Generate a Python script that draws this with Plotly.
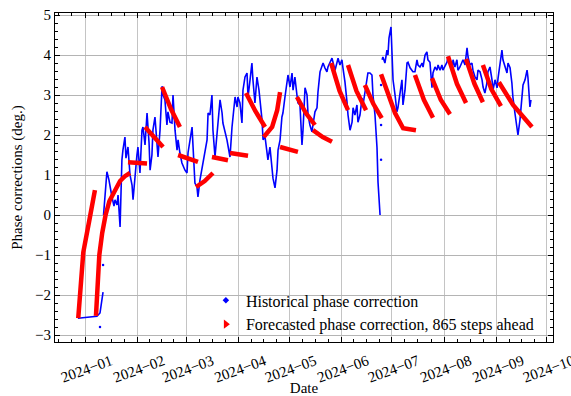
import pandas as pd
import plotly.graph_objects as go

BASE = pd.Timestamp("2024-01-01")

# ---- historical phase correction (days since 2024-01-01, degrees) ----
hist_a_day = [-4.2, 7.1, 8.9, 10.1, 10.7]
hist_a_val = [-2.58, -2.53, -2.45, -2.13, -1.93]

hist_b_day = [11.0, 11.9, 13.0, 14.2, 14.8, 16.0, 17.2, 17.8, 19.0, 19.6, 20.8, 21.4, 21.9, 22.5,
              23.7, 24.3, 25.5, 26.7, 27.9, 28.5, 29.7, 30.8, 31.4, 32.6, 33.8, 34.4, 35.6, 36.8,
              38.0, 38.6, 39.7, 40.3, 41.5, 42.7, 43.3, 44.5, 45.7, 46.3, 47.4, 48.6, 49.2, 50.4,
              51.6, 52.2, 53.4, 54.6, 55.2, 56.3, 57.5, 59.3, 60.5, 61.1, 62.3, 63.5, 64.1, 65.2,
              66.4, 67.0, 68.2, 70.0, 72.4, 73.0, 74.1, 75.3, 75.9, 77.1, 78.3, 80.1, 81.3, 81.8,
              84.2, 86.0, 87.2, 89.0, 90.2, 90.7, 91.9, 93.1, 93.7, 94.9, 96.1, 96.7, 97.9, 99.0,
              99.6, 100.8, 102.0, 103.2, 105.0, 105.6, 106.8, 107.9, 108.5, 109.7, 110.9, 111.5,
              112.7, 113.9, 114.5, 115.7, 116.8, 117.4, 118.6, 119.8, 120.4, 121.6, 122.8, 123.4,
              124.5, 125.7, 126.3, 127.5, 128.7, 129.3, 130.5, 131.7, 132.3, 133.4, 134.6, 135.2,
              136.4, 137.6, 138.2, 139.4, 140.6, 141.2, 142.3, 143.5, 144.1, 145.3, 146.5, 147.1,
              148.3, 149.5, 150.1, 151.2, 152.4, 153.0, 154.2, 155.4, 156.0, 157.2, 158.4, 159.0,
              160.1, 161.3, 161.9, 163.1, 164.3, 164.9, 166.1, 167.3, 167.8, 169.0, 170.2, 170.8,
              172.0, 173.2, 173.8, 175.0]
hist_b_val = [0.0, 0.5, 1.08, 0.88, 0.7, 0.45, 0.22, 0.38, 0.25, 0.5, -0.3, 0.88, 1.38, 1.62,
              1.95, 1.42, 1.7, 1.0, 0.75, 0.38, 1.08, 1.5, 1.7, 1.05, 2.12, 2.2, 1.75, 2.55,
              1.8, 1.12, 1.5, 2.12, 2.45, 1.75, 1.45, 2.12, 3.22, 3.0, 2.88, 2.25, 2.58, 2.32,
              2.3, 3.0, 2.12, 1.62, 1.88, 1.55, 1.3, 1.12, 1.05, 1.55, 1.88, 2.2, 1.7, 0.8,
              0.7, 0.45, 0.88, 1.3, 1.88, 2.55, 2.5, 3.0, 2.12, 1.45, 1.95, 2.88, 2.55, 2.3,
              1.88, 1.45, 2.2, 2.95, 2.7, 2.95, 2.8, 2.3, 3.12, 3.45, 3.55, 2.95, 3.38, 3.8,
              3.38, 2.8, 3.45, 3.12, 2.38, 1.88, 1.95, 1.55, 1.38, 1.7, 1.12, 0.92,
              0.68, 1.12, 1.62, 1.88, 2.45, 2.55, 2.95, 3.38, 3.5, 3.2, 3.55, 3.12,
              3.45, 3.0, 2.8, 2.75, 1.75, 2.12, 3.18, 3.0, 2.5, 2.25, 2.08, 2.25,
              2.58, 2.68, 3.08, 3.58, 3.75, 3.8, 3.68, 3.58, 3.7, 3.82, 3.92, 3.82,
              3.62, 3.82, 3.92, 3.75, 3.88, 3.68, 3.32, 2.82, 2.5, 2.12, 2.32, 2.68,
              2.5, 2.75, 2.32, 2.5, 2.92, 2.75, 3.08, 3.45, 3.55, 3.55, 3.5, 3.0,
              2.5, 1.68, 0.82, 0.0]

hist_c_day = [176.2, 176.7, 177.9, 179.1, 179.7, 180.3, 181.5, 182.1, 182.7, 183.9, 185.0, 185.6,
              186.8, 188.0, 188.6, 189.8, 191.0, 191.6, 192.8, 193.9, 194.5, 195.7, 196.9, 197.5,
              198.7, 199.9, 200.5, 201.7, 202.8, 203.4, 204.6, 205.8, 206.4, 207.6, 208.8, 209.4,
              210.6, 211.7, 212.3, 214.7, 215.3, 216.5, 217.7, 218.3, 219.4, 220.6, 221.2, 222.4,
              223.6, 224.2, 225.4, 226.6, 227.2, 228.3, 229.5, 230.1, 231.3, 232.5, 233.1, 234.3,
              235.5, 236.1, 237.2, 238.4, 239.0, 240.2, 241.4, 242.0, 243.2, 244.4, 245.0, 246.1,
              247.3, 247.9, 249.1, 250.3, 250.9, 252.1, 253.2, 253.8, 255.0, 256.2, 256.8, 258.0,
              259.2, 259.8, 261.0, 262.2, 262.7, 263.9, 264.5]
hist_c_val = [3.88, 3.95, 3.8, 4.12, 4.0, 4.42, 4.7, 4.2, 3.38, 3.0, 2.58, 2.68,
              3.0, 3.38, 2.75, 3.12, 3.8, 3.82, 3.68, 3.62, 3.58, 3.58, 3.88, 3.75,
              3.7, 3.8, 3.7, 4.0, 4.08, 3.88, 3.82, 3.18, 3.55, 3.7, 3.62, 3.75,
              3.62, 3.75, 3.62, 3.82, 3.95, 3.75, 3.62, 3.88, 3.7, 3.88, 3.62, 3.7,
              3.8, 3.88, 3.75, 4.18, 3.95, 3.75, 3.8, 3.62, 3.45, 3.38, 3.62, 3.58,
              3.38, 3.2, 3.05, 3.3, 3.58, 3.7, 3.38, 3.12, 3.38, 3.18, 3.42, 3.8,
              4.12, 3.88, 3.7, 3.55, 3.8, 3.68, 3.3, 2.95, 2.55, 2.2, 2.0, 2.38,
              3.05, 3.25, 3.38, 3.62, 3.45, 2.7, 2.88]

hist_dot_day = [8.9, 10.7, 175.6, 175.6, 175.6]
hist_dot_val = [-2.8, -1.25, 1.38, 2.25, 3.25]

# ---- forecasted phase correction, 865 steps ahead (one list per forecast) ----
fc_days = [
    [-4.0, -1.0, 2.5, 5.9],
    [6.5, 7.5, 8.5, 10.2, 12.2, 14.5, 17.8, 20.8, 23.7, 26.7],
    [25.5, 31.0, 36.8],
    [35.6, 41.0, 46.3],
    [45.7, 51.0, 56.3],
    [55.2, 61.0, 67.0],
    [65.9, 71.0, 75.9],
    [75.3, 80.0, 84.8],
    [86.0, 91.0, 96.7],
    [95.5, 101.0, 106.8],
    [106.0, 111.0, 114.0, 115.7],
    [115.7, 121.0, 126.3],
    [125.7, 131.0, 136.4],
    [135.2, 141.0, 146.5],
    [146.0, 151.0, 156.0],
    [156.0, 161.0, 166.7],
    [166.0, 171.0, 176.0],
    [175.6, 183.9, 188.7, 196.3],
    [195.7, 201.0, 206.4],
    [205.8, 211.0, 216.5],
    [215.3, 220.6, 226.0],
    [226.0, 231.0, 236.0],
    [236.0, 241.0, 246.7],
    [245.5, 253.9, 265.1],
]
fc_vals = [
    [-2.58, -0.93, -0.15, 0.62],
    [-2.52, -1.8, -1.0, -0.45, 0.0, 0.35, 0.62, 0.85, 0.97, 1.05],
    [1.32, 1.31, 1.29],
    [2.2, 1.95, 1.7],
    [3.2, 2.65, 2.2],
    [1.5, 1.42, 1.33],
    [0.7, 0.85, 1.05],
    [1.45, 1.4, 1.37],
    [1.55, 1.51, 1.48],
    [3.05, 2.6, 2.2],
    [1.95, 2.2, 2.62, 3.07],
    [1.7, 1.63, 1.58],
    [2.95, 2.55, 2.25],
    [2.12, 1.95, 1.83],
    [3.8, 3.1, 2.62],
    [3.75, 3.1, 2.62],
    [3.25, 2.78, 2.42],
    [3.52, 2.55, 2.17, 2.12],
    [3.5, 2.88, 2.43],
    [3.42, 2.88, 2.52],
    [3.97, 3.28, 2.8],
    [3.9, 3.28, 2.82],
    [3.75, 3.15, 2.72],
    [3.32, 2.75, 2.2],
]

month_ticks = ["2024-01-01", "2024-02-01", "2024-03-01", "2024-04-01", "2024-05-01",
               "2024-06-01", "2024-07-01", "2024-08-01", "2024-09-01", "2024-10-01"]
month_labels = ["2024\u221201", "2024\u221202", "2024\u221203", "2024\u221204", "2024\u221205",
                "2024\u221206", "2024\u221207", "2024\u221208", "2024\u221209", "2024\u221210"]
y_ticks = [-3, -2, -1, 0, 1, 2, 3, 4, 5]
y_labels = ["\u22123", "\u22122", "\u22121", "0", "1", "2", "3", "4", "5"]


def to_dates(days):
    return [BASE + pd.Timedelta(days=d) for d in days]


BLUE = "#0000ff"
RED = "#ff0000"

fig = go.Figure()

# historical line pieces
hx, hy = [], []
for d, v in ((hist_a_day, hist_a_val), (hist_b_day, hist_b_val), (hist_c_day, hist_c_val)):
    hx += to_dates(d) + [None]
    hy += list(v) + [None]
fig.add_trace(go.Scatter(x=hx, y=hy, mode="lines", line=dict(color=BLUE, width=1.6),
                         showlegend=False, hoverinfo="skip"))
fig.add_trace(go.Scatter(x=to_dates(hist_dot_day), y=hist_dot_val, mode="markers",
                         marker=dict(color=BLUE, size=2.5), showlegend=False))

# forecasts
fx, fy = [], []
for d, v in zip(fc_days, fc_vals):
    fx += to_dates(d) + [None]
    fy += list(v) + [None]
fig.add_trace(go.Scatter(x=fx, y=fy, mode="lines", line=dict(color=RED, width=4.5),
                         showlegend=False))

# legend entries
fig.add_trace(go.Scatter(x=[None], y=[None], mode="markers", name="Historical phase correction",
                         marker=dict(color=BLUE, size=5, symbol="diamond")))
fig.add_trace(go.Scatter(x=[None], y=[None], mode="markers",
                         name="Forecasted phase correction, 865 steps ahead",
                         marker=dict(color=RED, size=8, symbol="triangle-right")))

# minor ticks: quarters of each month
months = pd.date_range("2023-12-01", "2024-11-01", freq="MS")
minor_vals = []
for m0, m1 in zip(months[:-1], months[1:]):
    step = (m1 - m0) / 4
    minor_vals += [m0 + step * k for k in (1, 2, 3)]

FONT = "Liberation Serif"
FS = 15
fig.update_layout(
    width=571, height=396,
    margin=dict(l=55, r=18, t=13, b=54, autoexpand=False),
    paper_bgcolor="white", plot_bgcolor="white",
    font=dict(family=FONT, size=FS, color="black"),
    showlegend=True,
    legend=dict(x=0.303, y=0.178, xanchor="left", yanchor="top", bgcolor="rgba(0,0,0,0)",
                font=dict(size=16), tracegroupgap=0),
    xaxis=dict(
        range=[pd.Timestamp("2023-12-14 05:00"), pd.Timestamp("2024-10-04 14:00")],
        tickmode="array", tickvals=month_ticks, ticktext=month_labels,
        tickangle=-20, ticklabelshift=26, ticklabelstandoff=4, ticklabeloverflow="allow",
        ticks="inside", ticklen=5, tickwidth=1, tickcolor="black", automargin=False,
        showline=True, linecolor="black", linewidth=1, mirror="ticks",
        showgrid=True, gridcolor="#c4c4c4", gridwidth=1, zeroline=False,
        minor=dict(tickmode="array", tickvals=minor_vals, ticks="inside", ticklen=3,
                   tickcolor="black", showgrid=False),
        title=dict(text="Date", font=dict(size=FS), standoff=8),
        tickfont=dict(size=FS),
    ),
    yaxis=dict(
        range=[-3.175, 5.05], automargin=False,
        tickmode="array", tickvals=y_ticks, ticktext=y_labels,
        ticks="inside", ticklen=5, tickwidth=1, tickcolor="black",
        showline=True, linecolor="black", linewidth=1, mirror="ticks",
        showgrid=True, gridcolor="#b4b4b4", gridwidth=1, zeroline=False,
        minor=dict(dtick=0.2, tick0=0, ticks="inside", ticklen=3, tickcolor="black",
                   showgrid=False),
        title=dict(text="Phase corrections (deg.)", font=dict(size=FS), standoff=8),
        tickfont=dict(size=FS),
    ),
)

fig.write_html("out.html")
